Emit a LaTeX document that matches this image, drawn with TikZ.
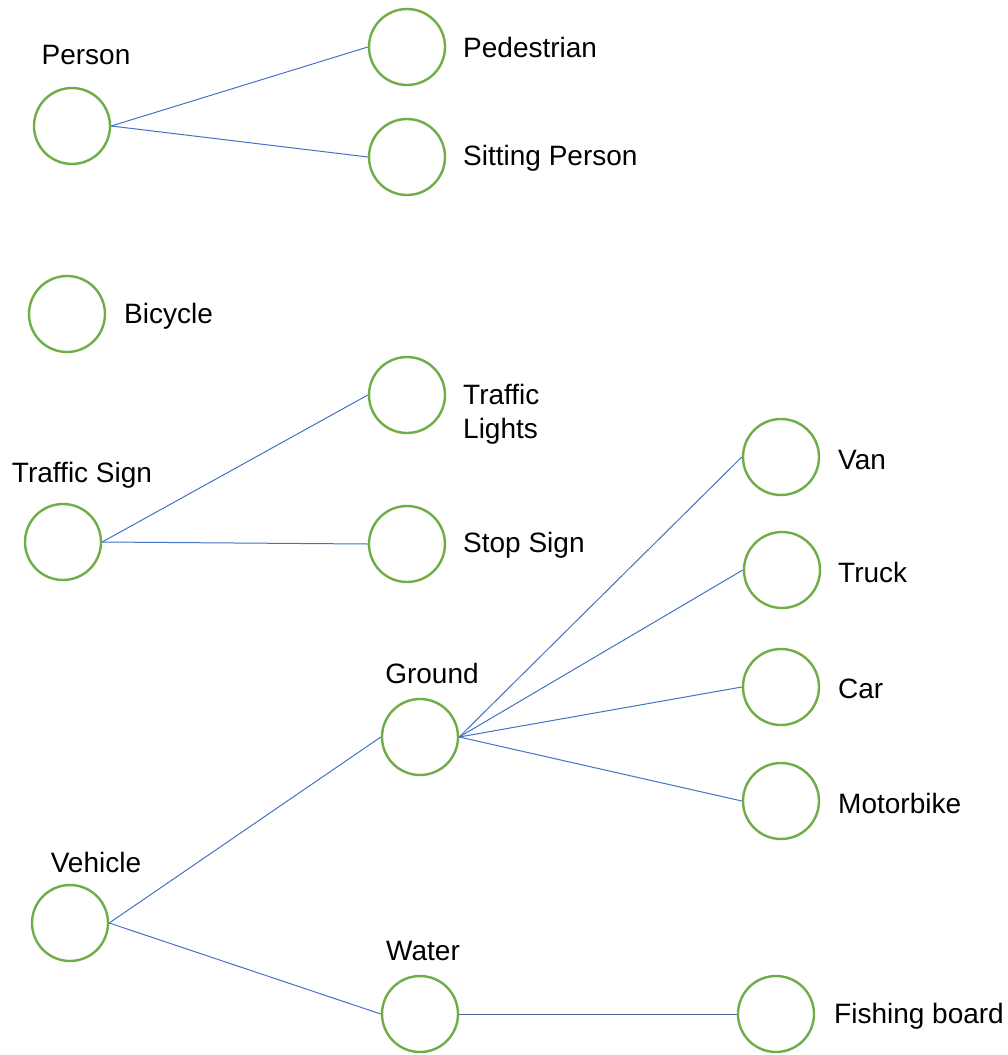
\documentclass[tikz,border=0pt]{standalone}
\usepackage{fontspec}
\setmainfont{Liberation Sans}
\definecolor{cgreen}{HTML}{70AD47}
\definecolor{cblue}{HTML}{4472C4}
\definecolor{cdark}{HTML}{4A66A0}
\begin{document}
\begin{tikzpicture}[x=1pt,y=-1pt,
  cnode/.style={circle,draw=cgreen,line width=2.4pt,minimum size=76pt,inner sep=0pt,fill=white},
  lbl/.style={font=\fontsize{28}{34}\selectfont,inner sep=0pt,text=black},
  lblw/.style={lbl,anchor=west},
  edge/.style={draw=cblue,line width=1pt}]
\useasboundingbox (0,0) rectangle (1008,1055);
\fill[white] (0,0) rectangle (1008,1055);
\node[cnode] (person) at (72,126) {};
\node[cnode] (ped) at (407,47) {};
\node[cnode] (sit) at (407,157) {};
\node[cnode] (bike) at (67,314) {};
\node[cnode] (tl) at (407,395) {};
\node[cnode] (ts) at (63,542) {};
\node[cnode] (stop) at (407,544) {};
\node[cnode] (van) at (781,457) {};
\node[cnode] (truck) at (782,570) {};
\node[cnode] (car) at (781,687) {};
\node[cnode] (moto) at (781,801) {};
\node[cnode] (ground) at (420,737) {};
\node[cnode] (veh) at (70,923) {};
\node[cnode] (water) at (420,1014) {};
\node[cnode] (fish) at (776,1014) {};

\draw[edge] (person.east) -- (ped.west);
\draw[edge] (person.east) -- (sit.west);
\draw[edge] (ts.east) -- (tl.west);
\draw[edge] (ts.east) -- (stop.west);
\draw[edge] (ground.east) -- (van.west);
\draw[edge] (ground.east) -- (truck.west);
\draw[edge] (ground.east) -- (car.west);
\draw[edge] (ground.east) -- (moto.west);
\draw[edge] (veh.east) -- (ground.west);
\draw[edge] (veh.east) -- (water.west);
\draw[draw=cdark,line width=1pt] (water.east) -- (fish.west);

\node[lbl] (lperson) at (86,55) {Person};
\node[lblw] (lped) at (463,47) {Pedestrian};
\node[lblw] (lsit) at (463,158) {Sitting Person};
\node[lblw] (lbike) at (124,316) {Bicycle};
\node[lblw,align=left] (ltl) at (463,414) {Traffic\\Lights};
\node[lbl] (lts) at (82,475) {Traffic Sign};
\node[lblw] (lstop) at (463,545) {Stop Sign};
\node[lblw] (lvan) at (838,460) {Van};
\node[lblw] (ltruck) at (838,572) {Truck};
\node[lblw] (lcar) at (838,689) {Car};
\node[lblw] (lmoto) at (838,803) {Motorbike};
\node[lbl] (lground) at (432,673) {Ground};
\node[lbl] (lveh) at (96,862) {Vehicle};
\node[lbl] (lwater) at (423,951) {Water};
\node[lblw] (lfish) at (834,1016) {Fishing board};
\end{tikzpicture}
\end{document}
